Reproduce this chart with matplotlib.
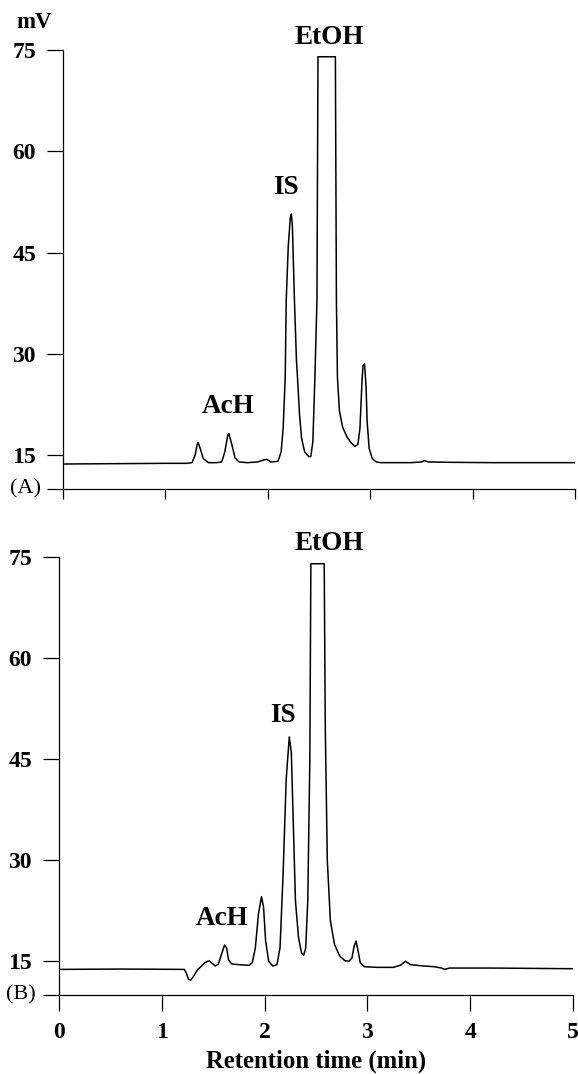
import matplotlib
matplotlib.use('Agg')
import matplotlib.pyplot as plt

# chromatogram A (time in min, signal in mV)
time_a = [0.0, 0.5, 1.0, 1.2, 1.26, 1.29, 1.31, 1.32, 1.34, 1.37, 1.42, 1.5, 1.55,
          1.58, 1.61, 1.62, 1.65, 1.68, 1.72, 1.8, 1.9, 1.96, 1.99, 2.03, 2.1,
          2.13, 2.15, 2.17, 2.18, 2.2, 2.22, 2.23, 2.24, 2.26, 2.28, 2.29, 2.31,
          2.33, 2.36, 2.4, 2.42, 2.44, 2.46, 2.48, 2.49, 2.66, 2.67, 2.68, 2.7,
          2.73, 2.77, 2.81, 2.85, 2.88, 2.9, 2.92, 2.93, 2.945, 2.96, 2.97, 2.99,
          3.02, 3.06, 3.1, 3.4, 3.5, 3.53, 3.57, 3.8, 4.2, 5.0]
signal_a = [13.7, 13.75, 13.8, 13.8, 13.9, 15.0, 16.6, 16.9, 16.0, 14.5, 13.9, 13.9, 14.0,
            15.5, 18.0, 18.2, 16.5, 14.6, 14.0, 13.9, 14.0, 14.3, 14.4, 14.0, 14.1,
            15.5, 19.0, 26.5, 38.0, 46.0, 50.2, 50.7, 49.0, 38.0, 29.0, 26.5, 21.0,
            17.5, 15.5, 14.8, 14.8, 17.0, 26.5, 38.0, 74.0, 74.0, 38.0, 26.5, 21.5,
            19.2, 17.8, 16.9, 16.3, 16.6, 19.0, 26.0, 28.3, 28.5, 25.0, 20.0, 16.0,
            14.5, 14.0, 13.9, 13.9, 14.0, 14.2, 14.0, 13.95, 13.9, 13.9]

# chromatogram B
time_b = [0.0, 0.6, 1.22, 1.24, 1.26, 1.28, 1.31, 1.35, 1.38, 1.42, 1.46, 1.49, 1.52,
          1.55, 1.58, 1.61, 1.63, 1.65, 1.68, 1.75, 1.85, 1.88, 1.91, 1.94, 1.97,
          1.99, 2.01, 2.04, 2.08, 2.12, 2.15, 2.18, 2.21, 2.24, 2.26, 2.28, 2.3,
          2.33, 2.36, 2.38, 2.4, 2.42, 2.44, 2.45, 2.58, 2.59, 2.61, 2.64, 2.68,
          2.73, 2.78, 2.82, 2.85, 2.87, 2.89, 2.91, 2.93, 2.97, 3.1, 3.25, 3.32,
          3.37, 3.42, 3.55, 3.65, 3.72, 3.75, 3.8, 4.2, 5.0]
signal_b = [13.8, 13.85, 13.8, 13.2, 12.3, 12.2, 12.8, 13.8, 14.2, 14.8, 15.1, 14.7, 14.3,
            14.6, 16.0, 17.4, 17.0, 15.2, 14.6, 14.5, 14.4, 14.8, 17.0, 22.0, 24.6,
            23.0, 18.0, 15.0, 14.3, 14.5, 17.0, 28.0, 42.0, 48.3, 46.0, 35.0, 24.0,
            18.5, 16.2, 15.9, 17.0, 24.0, 45.0, 74.0, 74.0, 50.0, 30.0, 21.0, 17.5,
            15.8, 15.1, 15.0, 15.5, 17.2, 18.0, 16.5, 14.8, 14.2, 14.1, 14.1, 14.4,
            15.0, 14.5, 14.3, 14.2, 14.0, 13.8, 14.0, 14.0, 13.9]

y_ticks = [10, 15, 30, 45, 60, 75]
y_tick_labels = ['', '15', '30', '45', '60', '75']
x_ticks = [0, 1, 2, 3, 4, 5]

# peak names and where they sit (min, mV)
peaks_a = [('AcH', 1.61, 22.2), ('IS', 2.18, 54.7), ('EtOH', 2.60, 76.9)]
peaks_b = [('AcH', 1.59, 21.4), ('IS', 2.18, 51.5), ('EtOH', 2.63, 77.0)]

SERIF = 'Liberation Serif'


def draw_panel(ax, t, s, peaks, panel: str, x_labels: bool) -> None:
    ax.plot(t, s, color='black', linewidth=1.1)
    ax.set_xlim(0, 5)
    ax.set_ylim(10, 75)

    for side in ('top', 'right'):
        ax.spines[side].set_visible(False)
    for side in ('left', 'bottom'):
        ax.spines[side].set_linewidth(0.9)
    ax.spines['bottom'].set_bounds(0, 5)

    ax.set_yticks(y_ticks)
    ax.set_yticklabels(y_tick_labels, fontfamily=SERIF, fontweight='bold', fontsize=17)
    ax.tick_params(axis='y', direction='out', length=11.5, width=0.9, pad=8)

    ax.set_xticks(x_ticks)
    if x_labels:
        ax.set_xticklabels([str(v) for v in x_ticks], fontfamily=SERIF,
                           fontweight='bold', fontsize=17)
        ax.tick_params(axis='x', direction='out', length=11.5, width=0.9, pad=8)
    else:
        ax.set_xticklabels([])
        ax.tick_params(axis='x', direction='out', length=7.5, width=0.9)

    for name, px, py in peaks:
        ax.text(px, py, name, ha='center', va='center', fontfamily=SERIF,
                fontweight='bold', fontsize=19.5)

    ax.text(-0.074, 10, panel, transform=ax.get_yaxis_transform(), ha='center',
            va='center', fontfamily=SERIF, fontsize=16)


def main():
    fig = plt.figure(figsize=(5.78, 10.74), dpi=100)
    ax_a = fig.add_axes([63 / 578, 585 / 1074, 512 / 578, 439 / 1074])
    ax_b = fig.add_axes([59 / 578, 79 / 1074, 514 / 578, 438 / 1074])

    draw_panel(ax_a, time_a, signal_a, peaks_a, '(A)', x_labels=False)
    draw_panel(ax_b, time_b, signal_b, peaks_b, '(B)', x_labels=True)

    ax_b.set_xlabel('Retention time (min)', fontfamily=SERIF, fontweight='bold',
                    fontsize=17.8, labelpad=5)
    fig.text(34 / 578, 1 - 22 / 1074, 'mV', ha='center', va='center',
             fontfamily=SERIF, fontweight='bold', fontsize=16.5)

    fig.savefig('out.png', dpi=100, facecolor='white')


if __name__ == '__main__':
    main()
